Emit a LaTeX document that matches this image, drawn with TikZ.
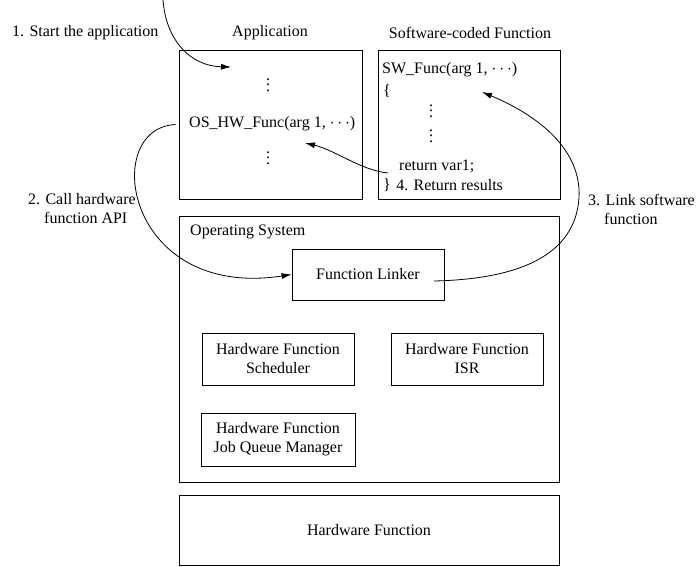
\documentclass[tikz,border=0pt]{standalone}
\usepackage{fontspec}
\setmainfont{Liberation Serif}
\usepackage{tikz}
\usetikzlibrary{positioning,arrows.meta}
\newcommand{\codevdots}{\vbox{\baselineskip=5.7pt \lineskiplimit=-10pt \hbox{.}\hbox{.}\hbox{.}}}
\tikzset{
    block/.style={rectangle, draw=black, line width=0.8pt, inner sep=0pt, align=center},
    codetext/.style={anchor=west, inner sep=0pt},
    flow/.style={draw=black, line width=0.8pt, -{Latex[length=10pt,width=6pt]}}
}

\begin{document}
\begin{tikzpicture}[
    x=1pt, y=-1pt,
    font=\fontsize{16}{19}\selectfont,
    % Style for the titles, dots and step labels
    caption/.style={inner sep=0pt},
    codedots/.style={inner sep=0pt},
    steplabel/.style={anchor=west, inner sep=0pt, align=left}
]
\useasboundingbox (0,0) rectangle (696,566);

% Outer blocks
\node[block, minimum width=183pt, minimum height=149pt] (app) at (270.5,124.5) {};
\node[block, minimum width=182pt, minimum height=149pt] (swfunc) at (469,124.5) {};
\node[block, minimum width=380pt, minimum height=266pt] (os) at (369,349) {};
\node[block, minimum width=380pt, minimum height=70pt] (hwfunc) at (369,530) {Hardware Function};

% Blocks inside the operating system
\node[block, minimum width=152pt, minimum height=51pt] (linker) at (368,274.5) {Function Linker};
\node[block, minimum width=152pt, minimum height=52pt] (sched) at (278,359) {Hardware Function\\Scheduler};
\node[block, minimum width=152pt, minimum height=52pt] (isr) at (467,359) {Hardware Function\\ISR};
\node[block, minimum width=154pt, minimum height=53pt] (jobq) at (278,439.5) {Hardware Function\\Job Queue Manager};

% Titles
\node[caption] (apptitle) at (270,33) {Application};
\node[caption] (swtitle) at (470,33) {Software-coded Function};
\node[codetext] (ostitle) at (190,232) {Operating System};

% Application code
\node[codedots] (appdots1) at (268,85) {\codevdots};
\node[codetext] (oshw) at (189,124) {OS\_HW\_Func(arg 1, $\cdots$)};
\node[codedots] (appdots2) at (268,158) {\codevdots};

% Software-coded function code
\node[codetext] (swhead) at (382,70) {SW\_Func(arg 1, $\cdots$)};
\node[codetext] (lbrace) at (383,91) {\{};
\node[codedots] (swdots1) at (431,111) {\codevdots};
\node[codedots] (swdots2) at (431,136) {\codevdots};
\node[codetext] (ret) at (399,166) {return var1;};
\node[codetext] (rbrace) at (383,185) {\}};
\node[steplabel, right=5pt of rbrace] (step4) {4. Return results};

% Step labels
\node[steplabel] (step1) at (12,33) {1. Start the application};
\node[steplabel] (step2) at (28,209) {2. Call hardware\\\hspace*{1em}function API};
\node[steplabel] (step3) at (588,209) {3. Link software\\\hspace*{1em}function};

% Arrow end points
\coordinate (s1) at (163,0);
\coordinate (t1) at (231,67);
\coordinate (s2) at ([xshift=-3pt]app.west);
\coordinate (s3) at (434,281);
\coordinate (m3) at (579,198);
\coordinate (t3) at (482,92);
\coordinate (s4) at (388,173);
\coordinate (t4) at (305,143);

% Arrows
\draw[flow] (s1) .. controls (166,40) and (190,66) .. (t1);
\draw[flow] (s2) .. controls (100,128) and (125,300) .. (linker.west);
\draw[flow] (s3) .. controls (520,279) and (575,255) .. (m3)
                 .. controls (582,145) and (530,112) .. (t3);
\draw[flow] (s4) .. controls (360,170) and (335,150) .. (t4);
\end{tikzpicture}
\end{document}
